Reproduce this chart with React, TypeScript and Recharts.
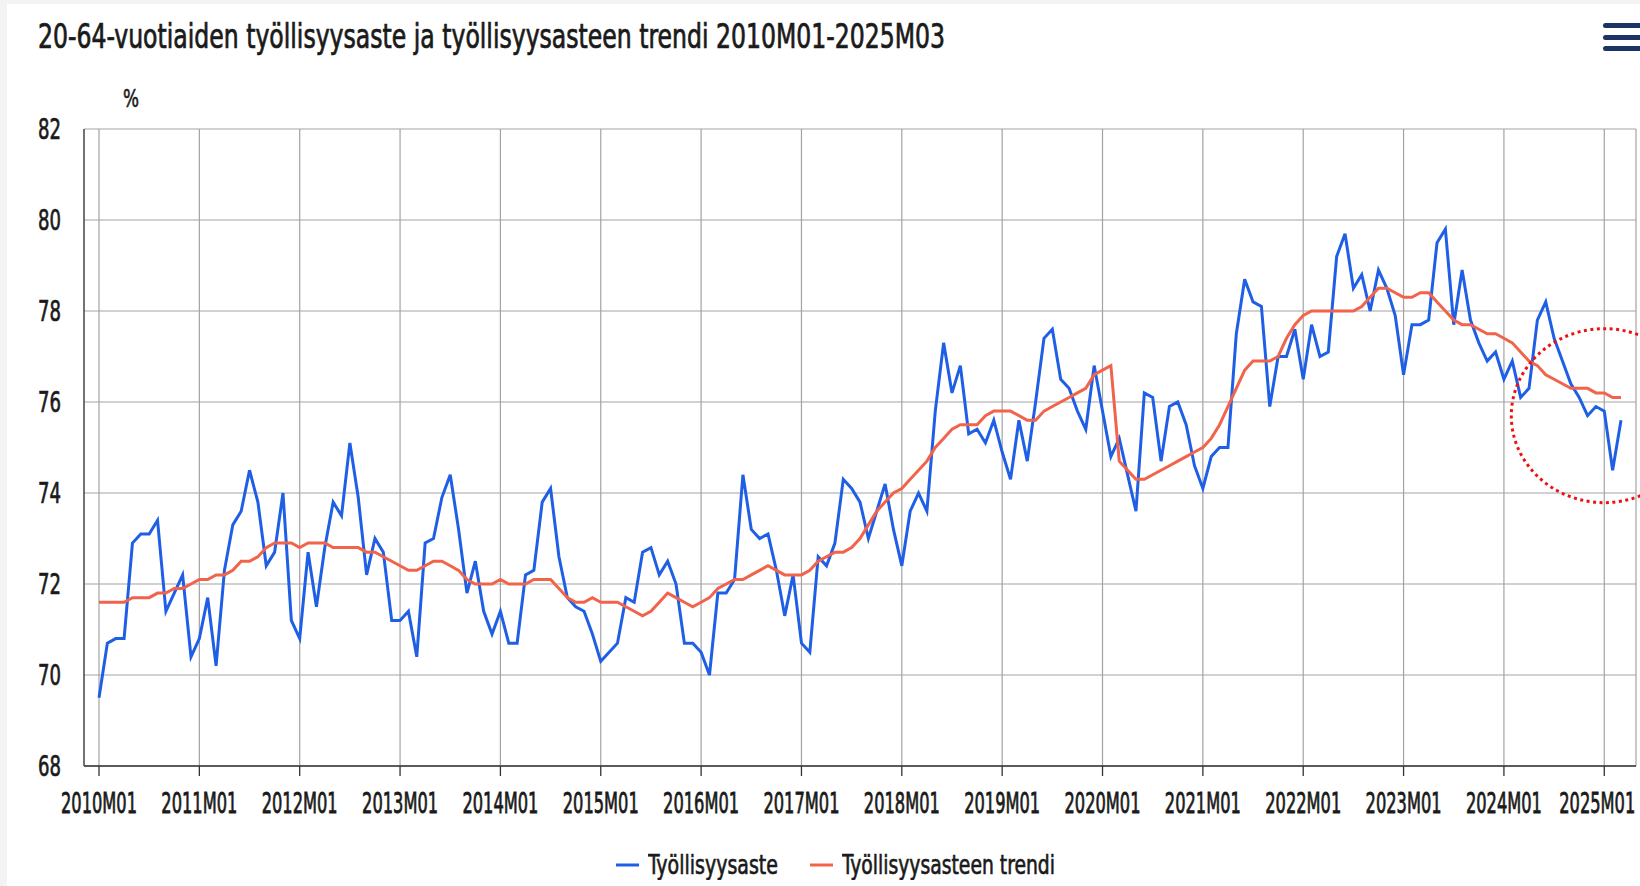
import React from "react";
import { LineChart, Line, XAxis, YAxis, CartesianGrid, Legend, ReferenceDot, Label } from "recharts";

const START_YEAR = 2010;
const YEAR_TICKS = [0, 12, 24, 36, 48, 60, 72, 84, 96, 108, 120, 132, 144, 156, 168, 180];
const Y_TICKS = [68, 70, 72, 74, 76, 78, 80, 82];

const TITLE = "20-64-vuotiaiden työllisyysaste ja työllisyysasteen trendi 2010M01-2025M03";
const RATE_NAME = "Työllisyysaste";
const TREND_NAME = "Työllisyysasteen trendi";

// Työllisyysaste, 2010M01 .. 2025M03
const employmentRate = [
  69.5, 70.7, 70.8, 70.8, 72.9, 73.1, 73.1, 73.4, 71.4, 71.8, 72.2, 70.4,
  70.8, 71.7, 70.2, 72.3, 73.3, 73.6, 74.5, 73.8, 72.4, 72.7, 74.0, 71.2,
  70.8, 72.7, 71.5, 72.8, 73.8, 73.5, 75.1, 73.9, 72.2, 73.0, 72.7, 71.2,
  71.2, 71.4, 70.4, 72.9, 73.0, 73.9, 74.4, 73.2, 71.8, 72.5, 71.4, 70.9,
  71.4, 70.7, 70.7, 72.2, 72.3, 73.8, 74.1, 72.6, 71.7, 71.5, 71.4, 70.9,
  70.3, 70.5, 70.7, 71.7, 71.6, 72.7, 72.8, 72.2, 72.5, 72.0, 70.7, 70.7,
  70.5, 70.0, 71.8, 71.8, 72.1, 74.4, 73.2, 73.0, 73.1, 72.3, 71.3, 72.2,
  70.7, 70.5, 72.6, 72.4, 72.9, 74.3, 74.1, 73.8, 73.0, 73.6, 74.2, 73.2,
  72.4, 73.6, 74.0, 73.6, 75.8, 77.3, 76.2, 76.8, 75.3, 75.4, 75.1, 75.6,
  74.9, 74.3, 75.6, 74.7, 76.0, 77.4, 77.6, 76.5, 76.3, 75.8, 75.4, 76.8,
  75.8, 74.8, 75.2, 74.4, 73.6, 76.2, 76.1, 74.7, 75.9, 76.0, 75.5, 74.6,
  74.1, 74.8, 75.0, 75.0, 77.5, 78.7, 78.2, 78.1, 75.9, 77.0, 77.0, 77.6,
  76.5, 77.7, 77.0, 77.1, 79.2, 79.7, 78.5, 78.8, 78.0, 78.9, 78.5, 77.9,
  76.6, 77.7, 77.7, 77.8, 79.5, 79.8, 77.7, 78.9, 77.8, 77.3, 76.9, 77.1,
  76.5, 76.9, 76.1, 76.3, 77.8, 78.2, 77.4, 76.9, 76.4, 76.1, 75.7, 75.9,
  75.8, 74.5, 75.6,
];

// Työllisyysasteen trendi
const employmentTrend = [
  71.6, 71.6, 71.6, 71.6, 71.7, 71.7, 71.7, 71.8, 71.8, 71.9, 71.9, 72.0,
  72.1, 72.1, 72.2, 72.2, 72.3, 72.5, 72.5, 72.6, 72.8, 72.9, 72.9, 72.9,
  72.8, 72.9, 72.9, 72.9, 72.8, 72.8, 72.8, 72.8, 72.7, 72.7, 72.6, 72.5,
  72.4, 72.3, 72.3, 72.4, 72.5, 72.5, 72.4, 72.3, 72.1, 72.0, 72.0, 72.0,
  72.1, 72.0, 72.0, 72.0, 72.1, 72.1, 72.1, 71.9, 71.7, 71.6, 71.6, 71.7,
  71.6, 71.6, 71.6, 71.5, 71.4, 71.3, 71.4, 71.6, 71.8, 71.7, 71.6, 71.5,
  71.6, 71.7, 71.9, 72.0, 72.1, 72.1, 72.2, 72.3, 72.4, 72.3, 72.2, 72.2,
  72.2, 72.3, 72.5, 72.6, 72.7, 72.7, 72.8, 73.0, 73.3, 73.6, 73.8, 74.0,
  74.1, 74.3, 74.5, 74.7, 75.0, 75.2, 75.4, 75.5, 75.5, 75.5, 75.7, 75.8,
  75.8, 75.8, 75.7, 75.6, 75.6, 75.8, 75.9, 76.0, 76.1, 76.2, 76.3, 76.6,
  76.7, 76.8, 74.7, 74.5, 74.3, 74.3, 74.4, 74.5, 74.6, 74.7, 74.8, 74.9,
  75.0, 75.2, 75.5, 75.9, 76.3, 76.7, 76.9, 76.9, 76.9, 77.0, 77.4, 77.7,
  77.9, 78.0, 78.0, 78.0, 78.0, 78.0, 78.0, 78.1, 78.3, 78.5, 78.5, 78.4,
  78.3, 78.3, 78.4, 78.4, 78.2, 78.0, 77.8, 77.7, 77.7, 77.6, 77.5, 77.5,
  77.4, 77.3, 77.1, 76.9, 76.8, 76.6, 76.5, 76.4, 76.3, 76.3, 76.3, 76.2,
  76.2, 76.1, 76.1,
];

const BLUE = "#1f5fe6";
const RED = "#f2634b";
const TEXT = "#1a1a1a";
const FONT = '"Liberation Sans Narrow", "DejaVu Sans Condensed", Roboto, sans-serif';

function monthLabel(i: number) {
  const y = START_YEAR + Math.floor(i / 12);
  const m = (i % 12) + 1;
  return `${y}M${m < 10 ? "0" + m : m}`;
}

const data = employmentRate.map((v, i) => ({
  idx: i,
  month: monthLabel(i),
  rate: v,
  trend: employmentTrend[i],
}));

// Condensed-looking text: small font stretched vertically, fixed width.
function TallText({ x, y, size, stretch, width, anchor = "start", stroke = 0.5, children }: any) {
  return (
    <text
      transform={`translate(${x},${y}) scale(1,${stretch})`}
      x={0}
      y={0}
      fontSize={size}
      fontFamily={FONT}
      fill={TEXT}
      stroke={TEXT}
      strokeWidth={stroke}
      textAnchor={anchor}
      textLength={width}
      lengthAdjust="spacingAndGlyphs"
    >
      {children}
    </text>
  );
}

function XTick({ x, y, payload }: any) {
  // last label is nudged left so it stays inside the chart, like the original
  const last = payload.value === YEAR_TICKS[YEAR_TICKS.length - 1];
  return (
    <TallText x={last ? x - 7 : x} y={y + 29} size={18} stretch={1.55} width={76} anchor="middle">
      {monthLabel(payload.value)}
    </TallText>
  );
}

function YTick({ x, y, payload }: any) {
  return (
    <TallText x={x} y={y + 10} size={20} stretch={1.4} width={23} anchor="end">
      {payload.value}
    </TallText>
  );
}

function LegendItem({ color, name, width }: { color: string; name: string; width: number }) {
  return (
    <div style={{ display: "flex", alignItems: "center" }}>
      <svg width={23} height={32}>
        <line x1={0} x2={23} y1={17} y2={17} stroke={color} strokeWidth={3} />
      </svg>
      <svg width={width + 2} height={32} style={{ marginLeft: 9 }}>
        <TallText x={0} y={26} size={20.5} stretch={1.27} width={width}>
          {name}
        </TallText>
      </svg>
    </div>
  );
}

function LegendContent() {
  return (
    <div style={{ display: "flex", justifyContent: "center", gap: 30, paddingLeft: 33 }}>
      <LegendItem color={BLUE} name={RATE_NAME} width={130} />
      <LegendItem color={RED} name={TREND_NAME} width={213} />
    </div>
  );
}

function Marker({ cx, cy }: any) {
  return (
    <ellipse cx={cx} cy={cy} rx={93} ry={87} fill="none" stroke="#ee1111"
      strokeWidth={3} strokeDasharray="3 3.5" />
  );
}

export default function App() {
  return (
    <div style={{ position: "relative", width: 1640, height: 886, background: "#f3f3f3", overflow: "hidden" }}>
      <style>{`body{margin:0;overflow:hidden;}`}</style>
      <div style={{ position: "absolute", left: 7, top: 4, width: 1633, height: 882, background: "#fff" }} />
      <svg style={{ position: "absolute", left: 0, top: 0 }} width={1640} height={70}>
        <TallText x={38} y={48} size={25} stretch={1.32} width={907} stroke={0.55}>
          {TITLE}
        </TallText>
      </svg>
      <div style={{ position: "absolute", left: 1603, top: 23 }}>
        {[0, 1, 2].map((i) => (
          <div key={i} style={{ width: 42, height: 5, borderRadius: 3, background: "#1c3366", marginBottom: 6.5 }} />
        ))}
      </div>
      <div style={{ position: "absolute", left: 0, top: 0 }}>
        <LineChart width={1640} height={886} data={data} margin={{ top: 129, right: 4, bottom: 60, left: 0 }}>
          <CartesianGrid stroke="#a3a3a3" strokeWidth={1.2} />
          <XAxis
            dataKey="idx"
            type="number"
            domain={[0, 182]}
            ticks={YEAR_TICKS}
            padding={{ left: 15, right: 15 }}
            height={60}
            tickSize={10}
            tickMargin={8}
            tick={<XTick />}
            axisLine={{ stroke: "#333", strokeWidth: 1.3 }}
            tickLine={{ stroke: "#333", strokeWidth: 1.3 }}
            interval={0}
          />
          <YAxis
            domain={[68, 82]}
            ticks={Y_TICKS}
            width={84}
            tickLine={false}
            tickSize={0}
            tickMargin={23}
            tick={<YTick />}
            axisLine={{ stroke: "#444", strokeWidth: 1.3 }}
            interval={0}
          >
            <Label
              content={({ viewBox }: any) => (
                <TallText x={viewBox.x + viewBox.width + 39} y={viewBox.y - 22} size={20} stretch={1.2} width={16}>
                  %
                </TallText>
              )}
            />
          </YAxis>
          <Legend
            verticalAlign="middle"
            content={<LegendContent />}
            wrapperStyle={{ position: "absolute", top: 848, bottom: "auto", left: 0, width: 1640 }}
          />
          <Line type="linear" dataKey="rate" name={RATE_NAME} stroke={BLUE} strokeWidth={3}
            dot={false} isAnimationActive={false} />
          <Line type="linear" dataKey="trend" name={TREND_NAME} stroke={RED} strokeWidth={3}
            dot={false} isAnimationActive={false} />
          <ReferenceDot x={180} y={75.7} ifOverflow="visible" shape={<Marker />} />
        </LineChart>
      </div>
    </div>
  );
}
